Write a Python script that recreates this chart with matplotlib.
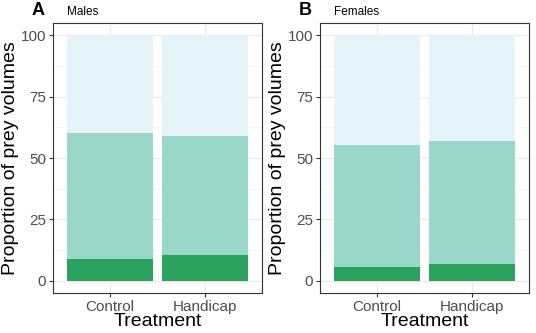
import matplotlib
matplotlib.use("Agg")
import matplotlib.pyplot as plt

treatments = ["Control", "Handicap"]
panels = ["A", "B"]
titles = ["Males", "Females"]
# cumulative stacked heights (bottom layer, middle layer top, total)
dark = [[9.0, 10.5], [5.7, 7.0]]
mid_top = [[60.0, 59.0], [55.3, 56.8]]
total = [[100.0, 100.0], [100.0, 100.0]]

C_LIGHT, C_MID, C_DARK = "#E5F4F9", "#99D8C9", "#2CA25F"
plt.rcParams["font.family"] = ["Liberation Sans", "DejaVu Sans"]

fig = plt.figure(figsize=(5.36, 3.33), dpi=100)
lefts = [53/536, 320/536]
w = 209/536
for k in range(2):
    ax = fig.add_axes([lefts[k], 40/333, w, 270/333])
    x = range(len(treatments))
    ax.bar(x, total[k], 0.9, color=C_LIGHT, zorder=2)
    ax.bar(x, mid_top[k], 0.9, color=C_MID, zorder=3)
    ax.bar(x, dark[k], 0.9, color=C_DARK, zorder=4)
    ax.set_xlim(-0.6, 1.6); ax.set_ylim(-5, 105)
    ax.set_yticks([0, 25, 50, 75, 100])
    ax.set_yticks([12.5, 37.5, 62.5, 87.5], minor=True)
    ax.set_xticks(list(x)); ax.set_xticklabels(treatments)
    ax.grid(True, which="major", color="#EBEBEB", lw=0.9, zorder=0)
    ax.grid(True, which="minor", axis="y", color="#F2F2F2", lw=0.5, zorder=0)
    ax.tick_params(which="minor", length=0)
    ax.tick_params(which="major", length=3, color="#333333", labelcolor="#4D4D4D", labelsize=11, pad=2)
    for s in ax.spines.values():
        s.set_color("#333333"); s.set_linewidth(0.8)
    ax.set_xlabel("Treatment", fontsize=14, labelpad=-1)
    ax.set_ylabel("Proportion of prey volumes", fontsize=14, labelpad=1)
    ax.text(-0.04, 1.015, panels[k], transform=ax.transAxes, fontsize=13, fontweight="bold",
            ha="right", va="bottom")
    ax.text(0.065, 1.02, titles[k], transform=ax.transAxes, fontsize=8.5, ha="left", va="bottom")

fig.savefig("out.png", dpi=100)
